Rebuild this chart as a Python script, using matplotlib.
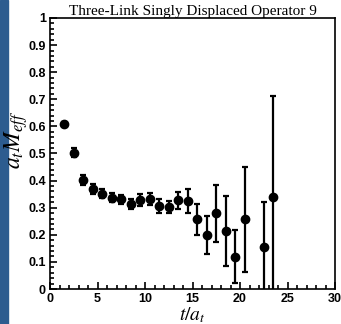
import matplotlib.pyplot as plt
from matplotlib.patches import Rectangle
from matplotlib.ticker import MultipleLocator, FuncFormatter

# effective mass plateau, time slices in units of a_t
t_slice = [1.5, 2.5, 3.5, 4.5, 5.5, 6.5, 7.5, 8.5, 9.5, 10.5, 11.5,
           12.5, 13.5, 14.5, 15.5, 16.5, 17.5, 18.5, 19.5, 20.5, 22.5, 23.5]
meff = [0.608, 0.503, 0.402, 0.369, 0.352, 0.337, 0.331, 0.315, 0.327, 0.331, 0.306,
        0.304, 0.328, 0.324, 0.258, 0.198, 0.279, 0.214, 0.119, 0.258, 0.156, 0.338]
meff_err = [0.008, 0.016, 0.020, 0.017, 0.016, 0.016, 0.017, 0.018, 0.022, 0.022, 0.025,
            0.022, 0.031, 0.045, 0.057, 0.070, 0.105, 0.128, 0.098, 0.194, 0.164, 0.374]

plt.rcParams['mathtext.fontset'] = 'stix'

fig = plt.figure(figsize=(3.41, 3.24), dpi=100)
fig.patches.append(Rectangle((0, 0), 8 / 341, 1, transform=fig.transFigure,
                             color='#2d5c8f', zorder=-1))
ax = fig.add_axes([50 / 341, 35 / 324, 285 / 341, 271 / 324])

ax.errorbar(t_slice, meff, yerr=meff_err, fmt='o', color='black', ms=6,
            elinewidth=1.6, capsize=2.5, capthick=1.6)

ax.set_xlim(0, 30)
ax.set_ylim(0, 1)
ax.xaxis.set_major_locator(MultipleLocator(5))
ax.xaxis.set_minor_locator(MultipleLocator(1))
ax.yaxis.set_major_locator(MultipleLocator(0.1))
ax.yaxis.set_minor_locator(MultipleLocator(0.02))
ax.yaxis.set_major_formatter(FuncFormatter(lambda v, p: '%g' % round(v, 2)))
ax.tick_params(which='both', direction='in', top=False, right=False, width=1.2)
ax.tick_params(which='major', length=5, pad=3)
ax.tick_params(which='minor', length=3)
for lab in ax.get_xticklabels() + ax.get_yticklabels():
    lab.set_fontfamily('Liberation Sans')
    lab.set_fontweight('bold')
    lab.set_fontsize(9)
for s in ax.spines.values():
    s.set_linewidth(1.2)

ax.set_title('Three-Link Singly Displaced Operator 9', fontfamily='Liberation Serif',
             fontsize=11, pad=0.8)
ax.set_xlabel('$t/a_t$', fontsize=14, labelpad=0)
ax.set_ylabel('$a_t M_{eff}$', fontsize=17)
ax.yaxis.set_label_coords(-0.07, 0.55)

fig.savefig('out.png', dpi=100)
